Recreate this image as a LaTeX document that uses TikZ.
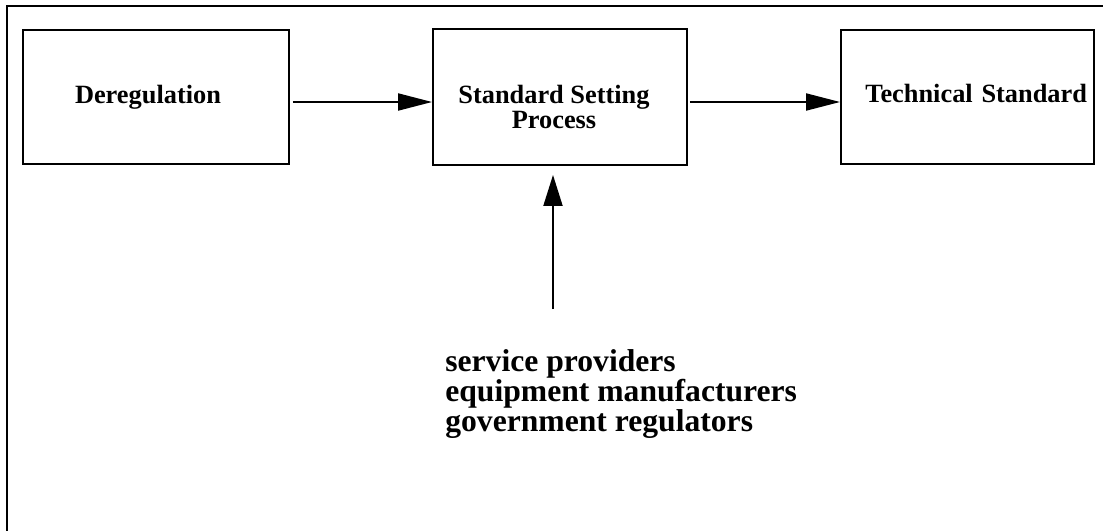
\documentclass[tikz,border=0pt]{standalone}
\usepackage{fontspec}
\setmainfont{Liberation Serif}
\usetikzlibrary{arrows.meta}

\begin{document}
\begin{tikzpicture}[x=0.02cm,y=-0.02cm]
	\tikzstyle{box} = [draw=black, line width=1.1pt, minimum height=2.68cm, font=\fontsize{15}{14.2}\selectfont\bfseries]
	\tikzstyle{flow} = [draw=black, line width=1.1pt, -{Triangle[length=0.68cm,width=0.34cm]}]
	\useasboundingbox (0,0) rectangle (1103,531);
	% frame, only top and left side
	\draw[line width=1.4pt] (1103,6) -- (7,6) -- (7,531);
		\node[box, inner xsep=1.04cm, text width=3.24cm, align=left] (dereg) at (156,97) {Deregulation};
		\node[box, minimum width=5.08cm, minimum height=2.72cm] (proc) at (560,97) {\raisebox{-0.27cm}[\height][\depth]{\begin{tabular}{@{}c@{}}Standard Setting\\Process\end{tabular}}\hspace*{0.24cm}};
		\node[box, inner xsep=4pt, text width=136pt, text height=10.2pt, text depth=4.5pt, align=right] (tech) at (967.5,97) {Technical Standard};
		\node[anchor=north west, inner sep=0pt, align=left, font=\fontsize{18}{17}\selectfont\bfseries] (actors) at (445,349) {service providers\\equipment manufacturers\\government regulators};
	\coordinate (src) at (553,309);
	\draw[flow, shorten <=0.06cm] ([yshift=-0.1cm]dereg.east) -- ([yshift=-0.1cm]proc.west);
	\draw[flow, shorten <=0.04cm] ([yshift=-0.1cm]proc.east) -- ([yshift=-0.1cm]tech.west);
	\draw[flow, -{Triangle[length=0.62cm,width=0.38cm]}, shorten >=0.18cm] (src) -- (src |- proc.south);
\end{tikzpicture}
\end{document}
